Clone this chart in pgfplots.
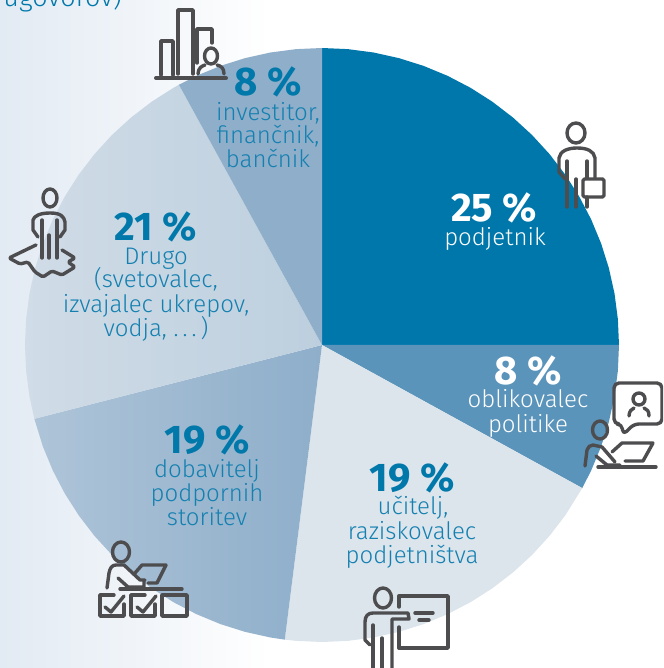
\documentclass[border=0pt]{standalone}
\usepackage{fontspec}
\setmainfont{Fira Sans}
\newfontfamily\lightf{Fira Sans Light}
\usepackage{pgfplots}
\usepgfplotslibrary{polar}
\pgfplotsset{compat=1.18}
\definecolor{numblue}{RGB}{0,120,170}
\definecolor{txtblue}{RGB}{20,128,176}
\definecolor{sliceA}{RGB}{0,119,170}
\definecolor{sliceB}{RGB}{91,148,186}
\definecolor{sliceC}{RGB}{220,228,236}
\definecolor{sliceF}{RGB}{142,174,202}
\definecolor{icon}{RGB}{77,77,79}
% label helpers: x, baseline y in picture pixels
\newcommand{\num}[4][numblue]{\node[anchor=base,text=#1,inner sep=0pt,font=\fontsize{40}{40}\selectfont\bfseries] at (#2,#3) {#4};}
\newcommand{\txt}[4][txtblue]{\node[anchor=base,text=#1,inner sep=0pt,font=\fontsize{24}{24}\lightf] at (#2,#3) {#4};}
\begin{document}
\begin{tikzpicture}
\clip (0,0) rectangle (663pt,668pt);
% backdrop
\begin{axis}[at={(0pt,0pt)},anchor=south west,scale only axis,width=663pt,height=668pt,
  xmin=0,xmax=663,ymin=0,ymax=668,hide axis]
\addplot[draw=none,left color={rgb,255:red,226;green,234;blue,243},middle color={rgb,255:red,244;green,247;blue,250},right color=white]
  coordinates {(0,0)(270,0)(270,668)(0,668)} -- cycle;
\end{axis}
% pie: angle, radius; shares 25 8 19 19 21 8
\begin{polaraxis}[at={(322pt,323pt)},anchor=center,scale only axis,width=594pt,height=594pt,
  ymin=0,ymax=1,hide axis,clip=false]
\addplot[draw=none,fill=sliceA] coordinates {(0,0)(0,1)(5,1)(10,1)(15,1)(20,1)(25,1)(30,1)(35,1)(40,1)(45,1)(50,1)(55,1)(60,1)(65,1)(70,1)(75,1)(80,1)(85,1)(90,1)} -- cycle;
\addplot[draw=none,fill=sliceB] coordinates {(0,0)(331.2,1)(335,1)(340,1)(345,1)(350,1)(355,1)(360,1)} -- cycle;
\addplot[draw=none,fill=sliceC] coordinates {(0,0)(262.8,1)(265,1)(270,1)(275,1)(280,1)(285,1)(290,1)(295,1)(300,1)(305,1)(310,1)(315,1)(320,1)(325,1)(331.2,1)} -- cycle;
\addplot[draw=none,left color={rgb,255:red,174;green,196;blue,216},middle color={rgb,255:red,150;green,180;blue,205},right color=sliceF] coordinates {(0,0)(194.4,1)(200,1)(205,1)(210,1)(215,1)(220,1)(225,1)(230,1)(235,1)(240,1)(245,1)(250,1)(255,1)(260,1)(262.8,1)} -- cycle;
\addplot[draw=none,left color={rgb,255:red,208;green,220;blue,231},middle color={rgb,255:red,190;green,207;blue,222},right color={rgb,255:red,189;green,207;blue,222}] coordinates {(0,0)(118.8,1)(120,1)(125,1)(130,1)(135,1)(140,1)(145,1)(150,1)(155,1)(160,1)(165,1)(170,1)(175,1)(180,1)(185,1)(190,1)(194.4,1)} -- cycle;
\addplot[draw=none,fill=sliceF] coordinates {(0,0)(90,1)(95,1)(100,1)(105,1)(110,1)(115,1)(118.8,1)} -- cycle;
\end{polaraxis}
% everything below in picture pixels, y downwards
\begin{scope}[x=1pt,y=-1pt,yshift=668pt]
\node[anchor=base east,text=numblue,inner sep=0pt,font=\fontsize{27}{27}\lightf] at (122,7) {ugovorov)};
\num[white]{494}{222}{25 \%}
\txt[white]{495}{246}{podjetnik}
\num[white]{528}{385}{8 \%}
\txt[white]{528}{408}{oblikovalec}
\txt[white]{528}{433}{politike}
\num{412}{492}{19 \%}
\txt{413}{515}{učitelj,}
\txt{412}{540}{raziskovalec}
\txt{412}{564}{podjetništva}
\num{207}{454}{19 \%}
\txt{207}{478}{dobavitelj}
\txt{207}{502}{podpornih}
\txt{207}{526}{storitev}
\num{156}{241}{21 \%}
\txt{156}{265}{Drugo}
\txt{156}{288}{(svetovalec,}
\txt{156}{313}{izvajalec ukrepov,}
\txt{156}{337}{vodja, .\,.\,.\,)}
\num{268}{96}{8 \%}
\txt{268}{121}{investitor,}
\txt{268}{144}{finančnik,}
\txt{268}{168}{bančnik}
\begin{scope}[draw=icon,line width=3.4pt,line cap=round,line join=round]
% investor
\draw[line width=4pt] (156,78) -- (226,78);
\draw (161,75) -- (161,41) -- (173,41) -- (173,75);
\draw (178,74) -- (178,10) -- (193,10) -- (193,74);
\draw (197,63) -- (197,29) -- (212,29) -- (212,43);
\draw (211,56) ellipse (6.5 and 8);
\draw (198,74) .. controls (198,68) and (202,66) .. (205,65);
\draw (217,65) .. controls (221,66) and (224,68) .. (224,74);
% entrepreneur
\draw (576,133) ellipse (9 and 10);
\draw (565,179) -- (559,172) -- (559,158) .. controls (560,151) and (568,148) .. (577,148)
  .. controls (587,148) and (594,151) .. (595,158) -- (595,178);
\draw (567,161) -- (567,207);
\draw (576,179) -- (576,207);
\draw (587,161) -- (587,178);
\draw (587,197) -- (587,207);
\draw[rounded corners=1.5pt] (583,179) rectangle (604,197);
% policy maker
\draw[rounded corners=5pt] (622,424) -- (623,435) -- (634,424) -- (662,424) -- (662,383) -- (614,383) -- (614,424) -- cycle;
\draw (639,399) circle (6);
\draw (629,416) .. controls (629,411) and (632,409) .. (634,408);
\draw (644,408) .. controls (647,409) and (649,411) .. (649,416);
\draw (600,430) ellipse (7.5 and 9);
\draw (585,466) -- (587,450) .. controls (588,447) and (590,445) .. (593,445) -- (602,447) -- (615,462);
\draw (596,456) -- (607,465) -- (620,465);
\draw (612,452) -- (622,443) -- (653,443) -- (643,461) -- (625,461);
\draw (598,467) -- (656,467);
% teacher
\draw (383,598) ellipse (8.5 and 10);
\draw (370,645) -- (365,640) -- (365,622) .. controls (365,616) and (368,613) .. (373,613) -- (408,613) -- (409,619) -- (392,619) -- (392,670);
\draw (373,625) -- (373,670);
\draw (382,638) -- (382,670);
\draw (399,607) -- (399,596) -- (448,596) -- (448,648) -- (399,648) -- (399,627);
\draw (415,613) -- (433,613);
\draw (419,620) -- (429,620);
% supplier
\draw (121,552) ellipse (8.5 and 10);
\draw (107,588) -- (109,573) .. controls (110,568) and (112,565) .. (116,565) -- (124,565) -- (140,580) -- (145,580);
\draw (118,578) -- (128,587) -- (144,587) -- (144,581);
\draw (135,573) -- (142,565) -- (166,565) -- (157,583) -- (148,583);
\draw (120,589) -- (182,589);
\draw (114,595) -- (100,595) -- (100,616) -- (124,616) -- (124,604);
\draw (145,595) -- (131,595) -- (131,616) -- (155,616) -- (155,604);
\draw (162,595) rectangle (187,616);
\draw (105,607) -- (111,612) -- (124,596);
\draw (137,607) -- (143,612) -- (156,596);
% other
\draw (50,198) ellipse (7 and 9);
\draw (38,237) -- (33,230) -- (33,220) .. controls (34,216) and (40,213) .. (50,213)
  .. controls (60,213) and (64,216) .. (65,222) -- (65,230) -- (60,237);
\draw (42,220) -- (42,258);
\draw (49,235) -- (49,258);
\draw (57,220) -- (57,258);
\draw[rounded corners=1.5pt] (36,245) -- (9,258) -- (20,264) -- (28,262) -- (35,272) -- (43,277) -- (52,271) -- (62,275) -- (75,267) -- (68,262) -- (75,258) -- (62,250);
\end{scope}
\end{scope}
\end{tikzpicture}
\end{document}
